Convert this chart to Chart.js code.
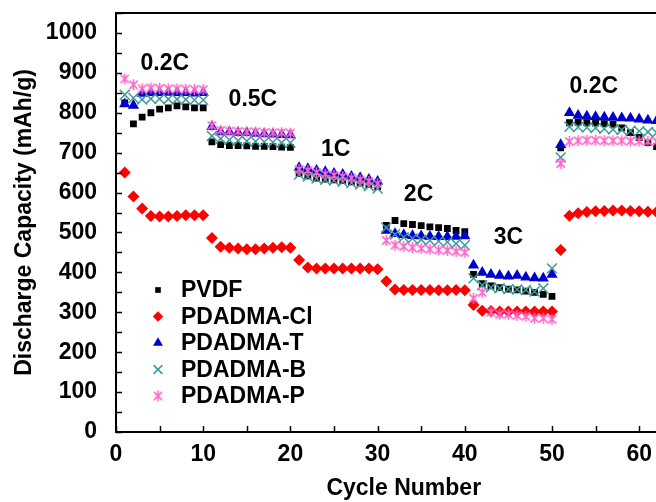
<!DOCTYPE html>
<html lang="en">
<head>
<meta charset="UTF-8">
<title>Discharge capacity vs cycle number</title>
<script src="https://cdn.jsdelivr.net/npm/chart.js"></script>
<style>
  html, body { margin: 0; padding: 0; background: #fff; overflow: hidden; }
  .wrap { width: 656px; height: 502px; overflow: hidden; }
  .box { position: relative; width: 700px; height: 502px; }
</style>
</head>
<body>
<div class="wrap"><div class="box"><canvas id="rateChart"></canvas></div></div>
<script>
  // cycle numbers, 10 cycles per C-rate step
  const cycles = [];
  for (let i = 1; i <= 62; i++) cycles.push(i);

  const pvdf = [825, 772, 789, 800, 809, 812, 817, 815, 812, 812,
                727, 720, 718, 718, 717, 716, 716, 715, 714, 713,
                648, 642, 636, 634, 632, 630, 627, 624, 620, 615,
                518, 530, 522, 520, 517, 514, 512, 510, 505, 502,
                395, 372, 366, 362, 358, 356, 353, 350, 345, 340,
                712, 775, 776, 775, 774, 773, 771, 762, 750, 738, 725, 715];
  const pdadmaCl = [650, 590, 560, 541, 540, 540, 541, 543, 543, 543,
                    486, 464, 462, 460, 458, 458, 460, 462, 463, 462,
                    431, 412, 410, 410, 410, 410, 410, 410, 410, 408,
                    378, 357, 356, 356, 356, 356, 355, 355, 356, 355,
                    318, 304, 303, 302, 302, 302, 302, 302, 302, 302,
                    456, 542, 548, 551, 553, 554, 555, 555, 554, 553, 552, 551];
  const pdadmaT = [822, 818, 848, 850, 850, 851, 850, 850, 849, 850,
                   765, 752, 752, 750, 750, 748, 747, 746, 745, 744,
                   662, 660, 655, 652, 648, 645, 640, 637, 633, 628,
                   505, 497, 494, 492, 491, 490, 489, 489, 490, 491,
                   418, 400, 395, 392, 390, 392, 388, 386, 385, 395,
                   720, 800, 793, 791, 790, 789, 788, 787, 786, 784, 781, 780];
  const pdadmaB = [845, 837, 833, 835, 835, 834, 834, 833, 832, 832,
                   742, 735, 732, 730, 729, 728, 727, 726, 725, 725,
                   645, 640, 635, 632, 630, 627, 624, 620, 616, 610,
                   512, 495, 488, 485, 482, 480, 478, 476, 472, 468,
                   385, 368, 362, 360, 358, 357, 356, 352, 360, 410,
                   688, 765, 764, 763, 762, 760, 758, 757, 755, 754, 752, 750];
  const pdadmaP = [885, 870, 860, 862, 861, 860, 860, 859, 858, 858,
                   768, 756, 754, 753, 752, 752, 750, 750, 750, 749,
                   658, 655, 650, 646, 643, 640, 636, 632, 628, 622,
                   480, 468, 465, 462, 460, 458, 456, 455, 452, 450,
                   335, 350, 300, 295, 295, 292, 290, 285, 285, 282,
                   673, 728, 730, 731, 731, 730, 730, 730, 729, 729, 728, 728];

  // C-rate annotations: text, cycle position, capacity position
  const rateText = ['0.2C', '0.5C', '1C', '2C', '3C', '0.2C'];
  const rateX = [5.6, 15.7, 25.2, 34.7, 45.0, 54.8];
  const rateY = [922, 832, 707, 594, 486, 865];

  const FONT = { family: "'Liberation Sans', Arial, sans-serif", size: 23, weight: 'bold' };

  // six-armed asterisk marker (vertical bar crossed by an X)
  function asterisk(color, size, lw) {
    const c = document.createElement('canvas');
    c.width = size; c.height = size;
    const g = c.getContext('2d');
    const m = size / 2, r = size / 2 - 1, d = r * 0.75;
    g.strokeStyle = color;
    g.lineWidth = lw;
    g.beginPath();
    g.moveTo(m, m - r); g.lineTo(m, m + r);
    g.moveTo(m - d, m - d); g.lineTo(m + d, m + d);
    g.moveTo(m - d, m + d); g.lineTo(m + d, m - d);
    g.stroke();
    return c;
  }

  const toPoints = arr => arr.map((v, i) => ({ x: cycles[i], y: v }));

  const datasets = [
    { label: 'PVDF', data: toPoints(pvdf), pointStyle: 'rect', pointRadius: 4.8,
      backgroundColor: '#000', borderColor: '#000', pointBorderWidth: 0, order: 5 },
    { label: 'PDADMA-Cl', data: toPoints(pdadmaCl), pointStyle: 'rectRot', pointRadius: 6,
      backgroundColor: '#ff0000', borderColor: '#ff0000', pointBorderWidth: 0, order: 4 },
    { label: 'PDADMA-T', data: toPoints(pdadmaT), pointStyle: 'triangle', pointRadius: 6.5,
      backgroundColor: '#0000cc', borderColor: '#0000cc', pointBorderWidth: 0, order: 3 },
    { label: 'PDADMA-B', data: toPoints(pdadmaB), pointStyle: 'crossRot', pointRadius: 7,
      backgroundColor: '#3d9a9a', borderColor: '#3d9a9a', pointBorderWidth: 1.5, order: 2 },
    { label: 'PDADMA-P', data: toPoints(pdadmaP), pointStyle: asterisk('#ff66cc', 13, 1.6), pointRadius: 6,
      backgroundColor: '#ff66cc', borderColor: '#ff66cc', pointBorderWidth: 1.5, order: 1 }
  ];

  // inward tick marks, top frame line, rate labels and the legend box
  const decorations = {
    id: 'decorations',
    afterDatasetsDraw(chart) {
      const { ctx, chartArea: a, scales: { x, y } } = chart;
      ctx.save();
      ctx.strokeStyle = '#000';
      ctx.lineWidth = 1.5;
      ctx.beginPath();
      y.ticks.forEach(t => {
        const py = Math.round(y.getPixelForValue(t.value)) + 0.5;
        ctx.moveTo(a.left, py); ctx.lineTo(a.left + 6, py);
      });
      x.ticks.forEach(t => {
        const px = Math.round(x.getPixelForValue(t.value)) + 0.5;
        ctx.moveTo(px, a.bottom); ctx.lineTo(px, a.bottom - 6);
      });
      ctx.stroke();

      ctx.lineWidth = 2;
      ctx.beginPath();
      ctx.moveTo(a.left - 1, a.top); ctx.lineTo(a.right, a.top);
      ctx.stroke();

      ctx.fillStyle = '#000';
      ctx.font = `${FONT.weight} ${FONT.size}px ${FONT.family}`;
      ctx.textAlign = 'center';
      ctx.textBaseline = 'middle';
      rateText.forEach((txt, i) => {
        ctx.fillText(txt, x.getPixelForValue(rateX[i]), y.getPixelForValue(rateY[i]));
      });

      // legend, lower left inside the plot
      ctx.textAlign = 'left';
      chart.data.datasets.forEach((ds, i) => {
        const ly = a.bottom - 142 + i * 26.5;
        const mx = a.left + 42;
        ctx.fillStyle = ds.backgroundColor;
        ctx.strokeStyle = ds.borderColor;
        ctx.lineWidth = ds.pointBorderWidth || 1;
        Chart.helpers.drawPoint(ctx, {
          pointStyle: ds.pointStyle,
          radius: ds.pointRadius - 0.8,
          borderWidth: ds.pointBorderWidth,
          rotation: 0
        }, mx, ly);
        ctx.fillStyle = '#000';
        ctx.fillText(ds.label, a.left + 65, ly + 1);
      });
      ctx.restore();
    }
  };

  new Chart(document.getElementById('rateChart'), {
    type: 'scatter',
    data: { datasets },
    options: {
      responsive: true,
      maintainAspectRatio: false,
      animation: false,
      layout: { padding: { top: 13, right: 6, left: 0, bottom: 0 } },
      plugins: { legend: { display: false }, tooltip: { enabled: false } },
      scales: {
        x: {
          type: 'linear',
          min: 0,
          max: 66,
          afterFit: s => { s.height = 70; s.paddingLeft = 0; s.paddingRight = 0; },
          ticks: {
            stepSize: 5,
            padding: 9,
            color: '#000',
            font: FONT,
            maxRotation: 0,
            autoSkip: false,
            callback: v => (v % 10 === 0 && v <= 60 ? v : '')
          },
          grid: { display: true, drawOnChartArea: false, drawTicks: false },
          border: { display: true, color: '#000', width: 2 },
          title: {
            display: true,
            text: 'Cycle Number',
            color: '#000',
            font: FONT,
            padding: { top: 0, bottom: 0 }
          }
        },
        y: {
          min: 0,
          max: 1050,
          afterFit: s => { s.width = 116; s.paddingTop = 0; s.paddingBottom = 0; },
          ticks: {
            stepSize: 50,
            padding: 19,
            color: '#000',
            font: FONT,
            autoSkip: false,
            callback: v => (v % 100 === 0 ? v : '')
          },
          grid: { display: true, drawOnChartArea: false, drawTicks: false },
          border: { display: true, color: '#000', width: 2 },
          title: {
            display: true,
            text: 'Discharge Capacity (mAh/g)',
            color: '#000',
            font: FONT,
            padding: { top: 11, bottom: 0 }
          }
        }
      }
    },
    plugins: [decorations]
  });
</script>
</body>
</html>
